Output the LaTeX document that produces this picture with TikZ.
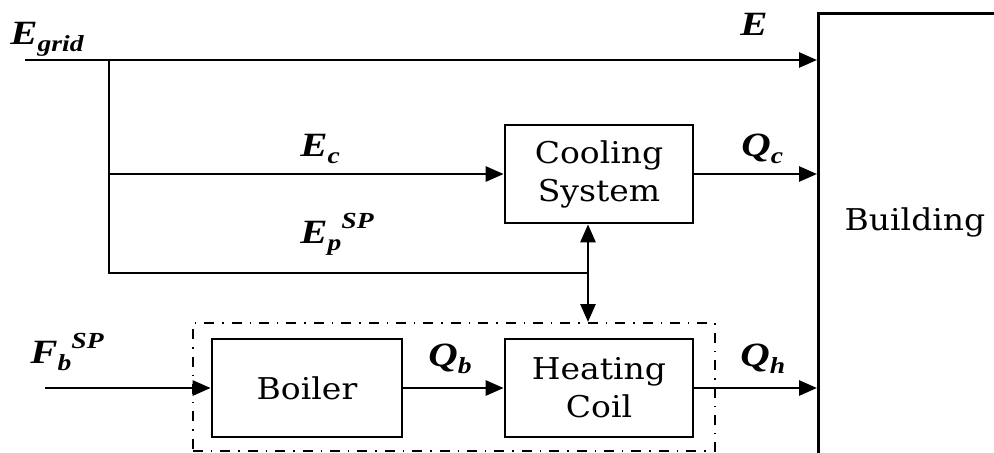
\documentclass[tikz,border=0pt]{standalone}
\usepackage{fontspec}
\setmainfont{DejaVu Serif}[FakeStretch=1.1]
\newfontfamily\labfont{Liberation Serif}[FakeStretch=1.2]
\usetikzlibrary{arrows.meta}
\newcommand{\Lb}[3]{{\labfont\bfseries\itshape\fontsize{17}{19}\selectfont #1\raisebox{-0.5ex}{\fontsize{11.5}{13}\selectfont #2}\raisebox{0.95ex}{\fontsize{11.5}{13}\selectfont #3}}}
\tikzset{
  ln/.style={line width=1.35pt},
  tip/.tip={Triangle[length=9pt,width=7.5pt]},
  blk/.style={draw, line width=1.35pt, minimum width=94pt, minimum height=49pt, align=center, inner sep=0pt, font=\fontsize{15}{19}\selectfont},
  grpbox/.style={draw, line width=1pt, dash pattern=on 5pt off 4pt on 0.7pt off 4pt, anchor=north west, inner sep=0pt},
  lab/.style={inner sep=0pt}
}
\begin{document}
\begin{tikzpicture}[x=0.5pt,y=-0.5pt]
\useasboundingbox (0,0) rectangle (994,452);
\clip (0,0) rectangle (994,452);
% boxes
\node[draw, line width=1.35pt, anchor=north west, minimum width=100pt, minimum height=225pt, inner sep=0pt] (bld) at (817,12) {};
\node[font=\fontsize{15}{19}\selectfont] (bldtxt) at (915,222) {Building};
\node[blk] (cool) at (599,174) {Cooling\\System};
\node[grpbox, minimum width=261pt, minimum height=64pt] (grp) at (192,322) {};
\node[blk, minimum width=95pt] (boiler) at (307,388) {Boiler};
\node[blk] (hc) at (599,388) {Heating\\Coil};
% coordinates
\coordinate (gs) at (25,60);
\coordinate (j1) at (109,60);
\coordinate (j3) at (109,273);
\coordinate (pj) at (588,273);
\coordinate (fs) at (45,388);
% connectors
\draw[ln,-tip] (gs) -- (gs -| bld.west);
\draw[ln] (j1) -- (j3) -- (pj);
\draw[ln,-tip] (j1 |- cool.west) -- (cool.west);
\draw[ln,-tip] (cool.east) -- (cool.east -| bld.west);
\draw[ln,tip-tip] (pj |- cool.south) -- (pj |- grp.north);
\draw[ln,-tip] (fs) -- (boiler.west);
\draw[ln,-tip] (boiler.east) -- (hc.west);
\draw[ln,-tip] (hc.east) -- (hc.east -| bld.west);
% labels
\node[lab, anchor=base west] (lgrid) at (10,44) {\Lb{E}{grid}{}};
\node[lab, anchor=base west] (lE) at (740,35) {\Lb{E}{}{}};
\node[lab, anchor=base west] (lEc) at (300,156) {\Lb{E}{c}{}};
\node[lab, anchor=base west] (lQc) at (741,156) {\Lb{Q}{c}{}};
\node[lab, anchor=base west] (lEp) at (300,243) {\Lb{E}{p}{SP}};
\node[lab, anchor=base west] (lFb) at (30,363) {\Lb{F}{b}{SP}};
\node[lab, anchor=base west] (lQb) at (428,366) {\Lb{Q}{b}{}};
\node[lab, anchor=base west] (lQh) at (740,366) {\Lb{Q}{h}{}};
\end{tikzpicture}
\end{document}
